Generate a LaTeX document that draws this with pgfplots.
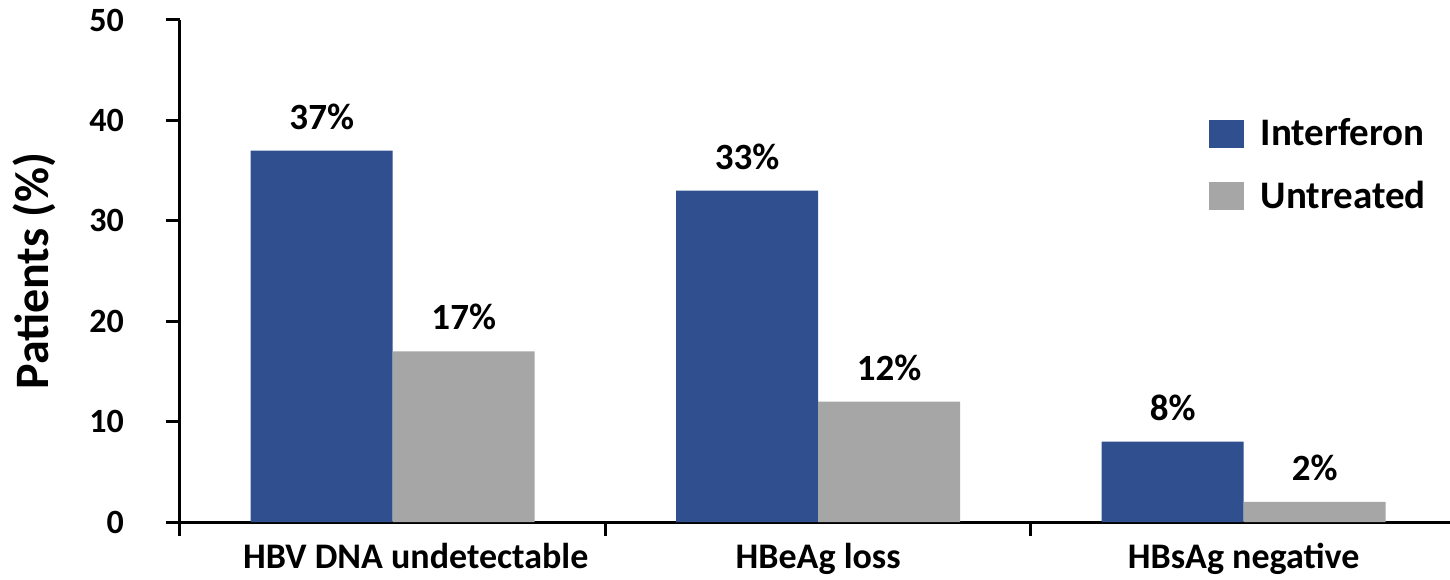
\documentclass[border=0pt]{standalone}
\usepackage{pgfplots}
\pgfplotsset{compat=1.18}
\usepackage{fontspec}
\setmainfont{Carlito}
\definecolor{ifnblue}{RGB}{47,79,143}
\definecolor{untgray}{RGB}{166,166,166}
\begin{document}
\begin{tikzpicture}
\begin{axis}[
  scale only axis,
  width=635pt, height=251pt,
  xmin=-0.5, xmax=2.485,
  ymin=0, ymax=50,
  axis x line=bottom, axis y line=left,
  axis line style={line width=1.5pt, -},
  every tick/.style={black, line width=1.5pt},
  tick align=outside,
  major tick length=7pt,
  ytick={0,10,20,30,40,50},
  xtick={-0.5,0.5,1.5},
  xticklabels={},
  extra x ticks={0,1,2},
  extra x tick labels={\hspace*{23pt}HBV DNA undetectable, HBeAg loss, HBsAg negative},
  extra x tick style={major tick length=0pt, tick label style={font=\fontsize{18}{21}\selectfont\bfseries, yshift=-7pt}},
  yticklabel style={font=\fontsize{17}{19}\selectfont\bfseries, xshift=-17.5pt},
  /pgf/number format/assume math mode=true,
  ylabel={Patients (\%)},
  ylabel style={font=\fontsize{24}{28}\selectfont\bfseries, yshift=10pt},
  ybar, bar width=71pt,
  nodes near coords={\pgfmathprintnumber{\pgfplotspointmeta}\%},
  every node near coord/.append style={font=\fontsize{18.5}{21}\selectfont\bfseries, black, anchor=south, yshift=7pt},
  legend style={at={(0.805,0.82)}, anchor=north west, draw=none, fill=none,
    font=\fontsize{19.5}{22}\selectfont\bfseries, row sep=12pt,
    legend cell align=left},
  legend image code/.code={\fill[#1] (0pt,-7pt) rectangle (17.5pt,7pt); \path (24pt,0pt);},
]
\addplot[fill=ifnblue, draw=none, bar shift=-35.5pt] coordinates {(0,37) (1,33) (2,8)};
\addplot[fill=untgray, draw=none, bar shift=35.5pt] coordinates {(0,17) (1,12) (2,2)};
\legend{Interferon, Untreated}
\end{axis}
\pgfresetboundingbox
\path[use as bounding box] ([xshift=-90pt,yshift=-28.5pt]current axis.south west) rectangle ([yshift=10pt]current axis.north east);
\end{tikzpicture}
\end{document}
